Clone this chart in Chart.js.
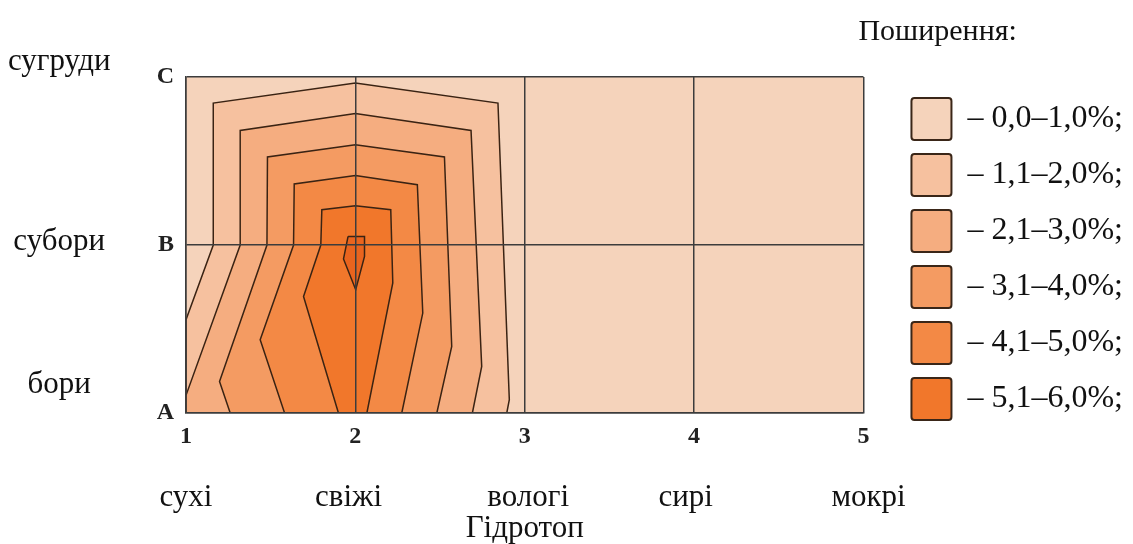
<!DOCTYPE html>
<html>
<head>
<meta charset="utf-8">
<script src="https://cdn.jsdelivr.net/npm/chart.js@4.4.1/dist/chart.umd.min.js"></script>
<style>
  html, body { margin: 0; padding: 0; background: #ffffff; }
  canvas { display: block; }
</style>
</head>
<body>
<canvas id="chart" width="1133" height="544"></canvas>
<script>
// ---------- data ----------
const hydroTicks  = ['1', '2', '3', '4', '5'];
const hydroNames  = ['сухі', 'свіжі', 'вологі', 'сирі', 'мокрі'];
const trophoTicks = ['A', 'B', 'C'];
const trophoNames = ['бори', 'субори', 'сугруди'];
const axisTitle   = 'Гідротоп';
const legendTitle = 'Поширення:';
const levelLabels = ['– 0,0–1,0%;', '– 1,1–2,0%;', '– 2,1–3,0%;', '– 3,1–4,0%;', '– 4,1–5,0%;', '– 5,1–6,0%;'];

// isoline polygons: x = hydrotope (1..5), y = trophotope (A = 0, B = 1, C = 2)
const lvl0X = [1, 1, 5, 5, 1];
const lvl0Y = [0, 2, 2, 0, 0];
const lvl1X = [1, 1, 1.161, 1.161, 2, 2.842, 2.909, 2.894, 1];
const lvl1Y = [0, 0.555, 1, 1.845, 1.964, 1.845, 0.079, 0, 0];
const lvl2X = [1, 1, 1.320, 1.320, 2, 2.683, 2.746, 2.691, 1];
const lvl2Y = [0, 0.105, 1, 1.682, 1.782, 1.682, 0.277, 0, 0];
const lvl3X = [1.261, 1.198, 1.478, 1.481, 2, 2.526, 2.569, 2.481, 1.261];
const lvl3Y = [0, 0.188, 1, 1.524, 1.597, 1.524, 0.396, 0, 0];
const lvl4X = [1.582, 1.438, 1.635, 1.639, 2, 2.366, 2.398, 2.274, 1.582];
const lvl4Y = [0, 0.436, 1, 1.363, 1.413, 1.359, 0.595, 0, 0];
const lvl5X = [1.900, 1.694, 1.796, 1.802, 2, 2.209, 2.221, 2.068, 1.900];
const lvl5Y = [0, 0.694, 1, 1.210, 1.234, 1.210, 0.774, 0, 0];
const peakX = [1.957, 2.054, 2.054, 2.002, 1.930, 1.957];
const peakY = [1.051, 1.051, 0.932, 0.734, 0.917, 1.051];

// ---------- styles ----------
const levelColors = ['#f5d3bb', '#f6c19f', '#f5ad80', '#f49b62', '#f38945', '#f1772b'];
const peakColor   = '#e9641e';
const lineColor   = '#3a2313';
const gridColor   = '#3c3c3c';
const serif = '"Liberation Serif", "Times New Roman", serif';

Chart.defaults.font.family = serif;
Chart.defaults.color = '#111111';

const polygons = [
  [lvl0X, lvl0Y], [lvl1X, lvl1Y], [lvl2X, lvl2Y], [lvl3X, lvl3Y],
  [lvl4X, lvl4Y], [lvl5X, lvl5Y], [peakX, peakY]
];
const fills = levelColors.concat([peakColor]);

const datasets = polygons.map(([xs, ys], i) => ({
  label: i < levelLabels.length ? levelLabels[i] : 'peak',
  data: xs.map((x, k) => ({ x: x, y: ys[k] })),
  showLine: true,
  fill: 'shape',
  backgroundColor: fills[i],
  borderColor: i === 0 ? 'rgba(0,0,0,0)' : lineColor,
  borderWidth: i === 0 ? 0 : 1.5,
  pointRadius: 0,
  pointHoverRadius: 0,
  tension: 0,
  order: polygons.length - i
}));

const legendHeading = {
  id: 'legendHeading',
  afterDraw(chart, _args, o) {
    const { ctx, chartArea } = chart;
    ctx.save();
    ctx.font = o.font;
    ctx.fillStyle = o.color;
    ctx.textAlign = 'left';
    ctx.textBaseline = 'middle';
    ctx.fillText(o.text, chartArea.right + o.offsetX, o.y);
    ctx.restore();
  }
};

new Chart(document.getElementById('chart'), {
  type: 'scatter',
  data: { datasets: datasets },
  plugins: [legendHeading],
  options: {
    responsive: false,
    animation: false,
    events: [],
    layout: { padding: { top: 77, left: 0, right: 0, bottom: 0 } },
    scales: {
      x: {
        type: 'linear', position: 'bottom', min: 1, max: 5, weight: 0,
        grid: { color: gridColor, lineWidth: 1.5, drawTicks: false, z: 1 },
        border: { color: gridColor, width: 1.5, z: 1 },
        ticks: {
          stepSize: 1, padding: 12, maxRotation: 0, autoSkip: false, color: '#222',
          font: { size: 24, weight: 'bold', lineHeight: 1 },
          callback: (v, i) => hydroTicks[i]
        }
      },
      x2: {
        type: 'linear', axis: 'x', position: 'bottom', min: 1, max: 5, weight: 1,
        grid: { display: false }, border: { display: false },
        afterBuildTicks: s => { s.ticks = [1, 1.96, 3.02, 3.95, 5.03].map(v => ({ value: v })); },
        afterFit: s => { s.height = 83; },
        ticks: {
          padding: 13, maxRotation: 0, autoSkip: false, color: '#111',
          font: { size: 31, lineHeight: 1 },
          callback: (v, i) => hydroNames[i]
        },
        title: {
          display: true, text: axisTitle, color: '#111',
          font: { size: 31, lineHeight: 1 }, padding: { top: 0, bottom: 0 }
        }
      },
      y: {
        type: 'linear', position: 'left', min: 0, max: 2, weight: 0,
        grid: { color: gridColor, lineWidth: 1.5, drawTicks: false, z: 1 },
        border: { color: gridColor, width: 1.5, z: 1 },
        afterFit: s => { s.width = 66; },
        ticks: {
          stepSize: 1, padding: 12, autoSkip: false, color: '#222',
          font: { size: 24, weight: 'bold', lineHeight: 1 },
          callback: (v, i) => trophoTicks[i]
        }
      },
      y2: {
        type: 'linear', axis: 'y', position: 'left', min: 0, max: 2, weight: 1,
        grid: { display: false }, border: { display: false },
        afterBuildTicks: s => { s.ticks = [0.17, 1.02, 2.09].map(v => ({ value: v })); },
        afterFit: s => { s.width = 120; },
        ticks: {
          padding: 1.5, crossAlign: 'center', autoSkip: false, color: '#111',
          font: { size: 31, lineHeight: 1 },
          callback: (v, i) => trophoNames[i]
        }
      },
      gap: {
        type: 'linear', axis: 'y', position: 'right', weight: 0,
        grid: { display: false }, border: { display: false },
        ticks: { display: false },
        afterFit: s => { s.width = 34; }
      }
    },
    plugins: {
      tooltip: { enabled: false },
      legendHeading: { text: legendTitle, font: '30px ' + serif, color: '#111', offsetX: -5, y: 32 },
      legend: {
        position: 'right',
        align: 'start',
        maxWidth: 320,
        onClick: () => {},
        title: { display: true, text: ' ', font: { size: 1, lineHeight: 1 }, padding: { top: 6, bottom: 0 } },
        labels: {
          boxWidth: 40, boxHeight: 42, padding: 14, color: '#111',
          font: { size: 32 },
          useBorderRadius: true, borderRadius: 3,
          generateLabels: () => levelLabels.map((t, i) => ({
            text: t, fillStyle: levelColors[i], strokeStyle: '#3a2618',
            lineWidth: 2, hidden: false, datasetIndex: i, fontColor: '#111', borderRadius: 3
          }))
        }
      }
    }
  }
});
</script>
</body>
</html>
